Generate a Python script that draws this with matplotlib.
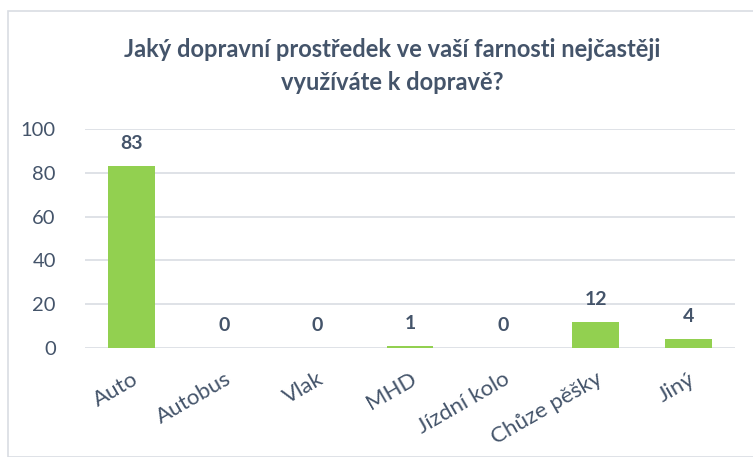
import matplotlib
matplotlib.use("Agg")
import matplotlib.pyplot as plt
from matplotlib.patches import Rectangle

categories = ["Auto", "Autobus", "Vlak", "MHD", "Jízdní kolo", "Chůze pěšky", "Jiný"]
values = [83, 0, 0, 1, 0, 12, 4]
yticks = [0, 20, 40, 60, 80, 100]

TXT = "#44546A"
BAR = "#92D050"
GRID = "#D9DDE3"
plt.rcParams['font.family'] = ['Lato', 'DejaVu Sans']

W, H = 753, 457
fig = plt.figure(figsize=(W/100, H/100), dpi=100)
fig.patches.append(Rectangle((8/W, 0), 1, 1 - 11/H, transform=fig.transFigure,
                             fill=False, edgecolor="#D9DDE3", linewidth=1.2))

ax = fig.add_axes([85/W, 1 - 348/H, (735-85)/W, (348-129)/H])
x = list(range(len(categories)))
ax.bar(x, values, width=0.5, color=BAR, zorder=3)
ax.set_xlim(-0.5, len(categories) - 0.5)
ax.set_ylim(0, 100)
ax.set_yticks(yticks)
ax.grid(axis='y', color=GRID, linewidth=1.2, zorder=0)
for s in ax.spines.values():
    s.set_visible(False)
ax.tick_params(axis='both', length=0, colors=TXT, labelsize=14.5)
ax.tick_params(axis='y', pad=21)
ax.set_xticks(x)
ax.set_xticklabels(categories, rotation=30, ha='right', rotation_mode='anchor', color=TXT,
                   fontsize=16)
ax.tick_params(axis='x', pad=15)
for xi, v in zip(x, values):
    ax.annotate(str(v), (xi, v), xytext=(0, 10), textcoords='offset points',
                ha='center', va='bottom', fontsize=14, fontweight='bold', color=TXT)

fig.text(392/W, 1 - 66/H, "Jaký dopravní prostředek ve vaší farnosti nejčastěji\nvyužíváte k dopravě?",
         ha='center', va='center', fontsize=17, fontweight='bold', color=TXT, linespacing=1.55)

fig.savefig("out.png", dpi=100)
